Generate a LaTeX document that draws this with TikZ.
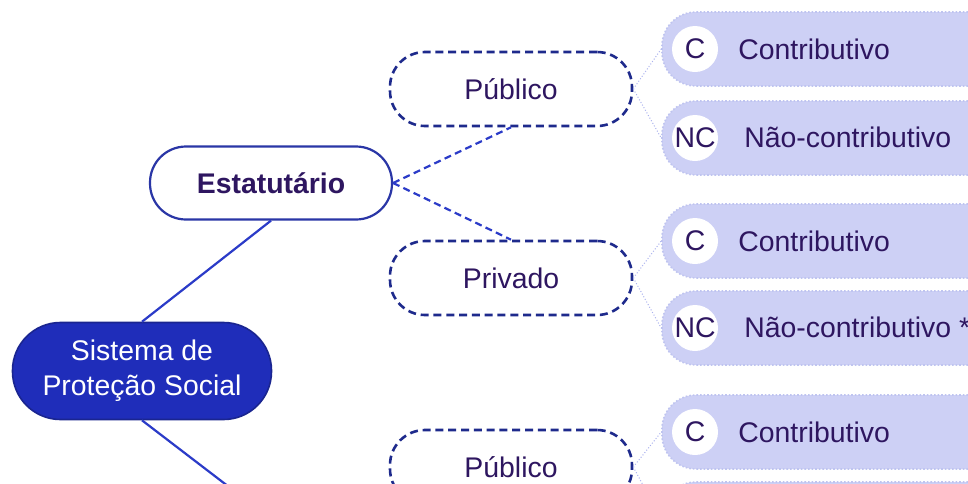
\documentclass[tikz,border=0pt]{standalone}
\usepackage{fontspec}
\setmainfont{Liberation Sans}
\begin{document}
\begin{tikzpicture}[x=0.5pt,y=-0.5pt,
  txt/.style={text=textpurple,font=\fontsize{14.2pt}{17.5pt}\selectfont},
  rootbox/.style={draw=rootedge,line width=0.8pt,fill=rootfill,rounded corners=24pt,minimum width=129.5pt,minimum height=48.5pt,text=white,align=center,inner sep=0pt,font=\fontsize{14.2pt}{17.5pt}\selectfont},
  mainbox/.style={txt,draw=edgeblue,line width=1.1pt,fill=white,rounded corners=18pt,minimum width=121pt,minimum height=36.5pt,inner sep=0pt,font=\fontsize{14.2pt}{17.5pt}\selectfont\bfseries},
  subbox/.style={txt,draw=dashnavy,line width=1.3pt,dash pattern=on 4pt off 2.4pt,fill=white,rounded corners=17.5pt,minimum width=121pt,minimum height=37pt,inner sep=0pt},
  leafbox/.style={draw=leafedge,densely dotted,line width=0.8pt,fill=leaffill,rounded corners=17pt,minimum width=170pt,minimum height=37pt,inner sep=0pt},
  badge/.style={circle,fill=white,minimum size=23pt,inner sep=0pt,txt},
  solidlink/.style={draw=linkblue,line width=1.1pt},
  dashlink/.style={draw=linkblue,line width=1.1pt,dash pattern=on 3.5pt off 2.2pt},
  dotlink/.style={draw=dotblue,line width=0.5pt,densely dotted}
]
\definecolor{textpurple}{HTML}{2E1660}
\definecolor{rootfill}{HTML}{1F2DBA}
\definecolor{rootedge}{HTML}{1A2590}
\definecolor{edgeblue}{HTML}{2A36A6}
\definecolor{dashnavy}{HTML}{1E2A8C}
\definecolor{linkblue}{HTML}{2B3BC8}
\definecolor{leaffill}{HTML}{CDD0F5}
\definecolor{leafedge}{HTML}{BFC4F0}
\definecolor{dotblue}{HTML}{AAB2EE}
\useasboundingbox (0,0) rectangle (968,483);
\clip (0,0) rectangle (968,483);
\fill[white] (0,0) rectangle (968,483);

% nodes
\node[rootbox] (sys) at (142,371) {Sistema de\\Proteção Social};
\node[mainbox] (est) at (271,183) {Estatutário};
\node[subbox] (pub1) at (511,89) {Público};
\node[subbox] (priv) at (511,278) {Privado};
\node[subbox] (pub2) at (511,467) {Público};

\node[leafbox] (l1) at (832,49) {};
\node[leafbox] (l2) at (832,138) {};
\node[leafbox] (l3) at (832,241) {};
\node[leafbox] (l4) at (832,328) {};
\node[leafbox] (l5) at (832,432) {};
\node[leafbox] (l6) at (832,519) {};

\node[badge] (b1) at (695,49) {C};
\node[badge] (b2) at (695,138) {NC};
\node[badge] (b3) at (695,241) {C};
\node[badge] (b4) at (695,328) {NC};
\node[badge] (b5) at (695,432) {C};

\node[txt,anchor=west,inner sep=0pt] (t1) at (738,49) {Contributivo};
\node[txt,anchor=west,inner sep=0pt] (t2) at (744,137) {Não-contributivo};
\node[txt,anchor=west,inner sep=0pt] (t3) at (738,241) {Contributivo};
\node[txt,anchor=west,inner sep=0pt] (t4) at (744,327) {Não-contributivo *};
\node[txt,anchor=west,inner sep=0pt] (t5) at (738,432) {Contributivo};

\coordinate (down) at (250,503);

% connectors
\draw[solidlink] (sys.north) -- (est.south);
\draw[solidlink] (sys.south) -- (down);
\draw[dashlink] (est.east) -- (pub1.south);
\draw[dashlink] (est.east) -- (priv.north);
\draw[dotlink] (pub1.east) -- (l1.west);
\draw[dotlink] (pub1.east) -- (l2.west);
\draw[dotlink] (priv.east) -- (l3.west);
\draw[dotlink] (priv.east) -- (l4.west);
\draw[dotlink] (pub2.east) -- (l5.west);
\draw[dotlink] (pub2.east) -- (l6.west);
\end{tikzpicture}
\end{document}
